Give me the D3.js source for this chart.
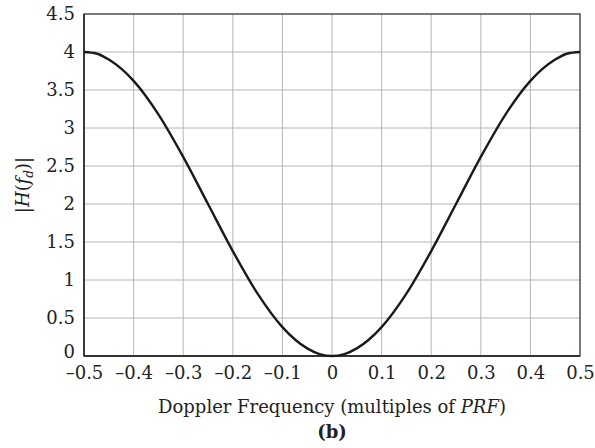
<!DOCTYPE html>
<html>
<head>
<meta charset="utf-8">
<script src="https://cdn.jsdelivr.net/npm/d3@7"></script>
<style>
  body { margin: 0; background: #fff; }
  text { font-family: "DejaVu Serif", serif; fill: #222; }
</style>
</head>
<body>
<svg width="595" height="448"></svg>
<script>
// values
const freqs = [-0.5, -0.475, -0.45, -0.4, -0.35, -0.3, -0.25, -0.2, -0.15, -0.1, -0.05, -0.025, 0,
  0.025, 0.05, 0.1, 0.15, 0.2, 0.25, 0.3, 0.35, 0.4, 0.45, 0.475, 0.5];
const magnitude = [4.0, 3.98, 3.9, 3.62, 3.18, 2.62, 2.0, 1.38, 0.82, 0.38, 0.1, 0.025, 0,
  0.025, 0.1, 0.38, 0.82, 1.38, 2.0, 2.62, 3.18, 3.62, 3.9, 3.98, 4.0];
const xTicks = [-0.5, -0.4, -0.3, -0.2, -0.1, 0, 0.1, 0.2, 0.3, 0.4, 0.5];
const yTicks = [0, 0.5, 1, 1.5, 2, 2.5, 3, 3.5, 4, 4.5];

const svg = d3.select('svg');
const margin = { left: 84, top: 14, right: 15, bottom: 92 };
const width = 595 - margin.left - margin.right;
const height = 448 - margin.top - margin.bottom;
const fontSize = '18px';

const g = svg.append('g')
    .attr('transform', `translate(${margin.left},${margin.top})`);

const x = d3.scaleLinear().domain([-0.5, 0.5]).range([0, width]);
const y = d3.scaleLinear().domain([0, 4.5]).range([height, 0]);

const fmt = d => d < 0 ? '\u2013' + d3.format('')(-d) : d3.format('')(d);

// grid
g.append('g')
    .selectAll('line')
    .data(xTicks.slice(1, -1))
  .join('line')
    .attr('x1', d => x(d)).attr('x2', d => x(d))
    .attr('y1', 0).attr('y2', height)
    .attr('stroke', '#b4b4b4').attr('stroke-width', 1);

g.append('g')
    .selectAll('line')
    .data(yTicks.slice(1, -1))
  .join('line')
    .attr('x1', 0).attr('x2', width)
    .attr('y1', d => y(d)).attr('y2', d => y(d))
    .attr('stroke', '#b4b4b4').attr('stroke-width', 1);

// axes (labels only, no tick marks)
const xAxis = g.append('g')
    .attr('transform', `translate(0,${height})`)
    .call(d3.axisBottom(x).tickValues(xTicks).tickFormat(fmt).tickSize(0).tickPadding(10));
xAxis.select('.domain').remove();
xAxis.selectAll('text')
    .style('font-family', '"DejaVu Serif", serif')
    .style('font-size', fontSize)
    .attr('fill', '#222');

const yAxis = g.append('g')
    .call(d3.axisLeft(y).tickValues(yTicks).tickFormat(fmt).tickSize(0).tickPadding(9));
yAxis.select('.domain').remove();
yAxis.selectAll('text')
    .style('font-family', '"DejaVu Serif", serif')
    .style('font-size', fontSize)
    .attr('fill', '#222');
yAxis.selectAll('text').filter(d => d === 0).attr('dy', '0.1em');

// frame
g.append('rect')
    .attr('width', width).attr('height', height)
    .attr('fill', 'none')
    .attr('stroke', '#333').attr('stroke-width', 1.3);
g.append('line')
    .attr('x1', 0).attr('x2', width)
    .attr('y1', height).attr('y2', height)
    .attr('stroke', '#333').attr('stroke-width', 2);
g.append('line')
    .attr('x1', 0).attr('x2', 0)
    .attr('y1', 0).attr('y2', height)
    .attr('stroke', '#333').attr('stroke-width', 1.8);

// curve
const line = d3.line()
    .x((d, i) => x(freqs[i]))
    .y(d => y(d))
    .curve(d3.curveMonotoneX);

g.append('path')
    .datum(magnitude)
    .attr('d', line)
    .attr('fill', 'none')
    .attr('stroke', '#1a1a1a')
    .attr('stroke-width', 2.4);

// titles
svg.append('text')
    .attr('x', margin.left + width / 2)
    .attr('y', 413)
    .attr('text-anchor', 'middle')
    .style('font-size', fontSize)
    .html('Doppler Frequency (multiples of <tspan font-style="italic">PRF</tspan>)');

svg.append('text')
    .attr('x', margin.left + width / 2)
    .attr('y', 438)
    .attr('text-anchor', 'middle')
    .style('font-size', fontSize)
    .style('font-weight', 'bold')
    .text('(b)');

svg.append('text')
    .attr('transform', `translate(29,${margin.top + height / 2}) rotate(-90)`)
    .attr('text-anchor', 'middle')
    .style('font-size', fontSize)
    .html('|<tspan font-style="italic">H</tspan>(<tspan font-style="italic">f</tspan><tspan font-style="italic" font-size="12px" dy="4">d</tspan><tspan dy="-4">)|</tspan>');
</script>
</body>
</html>
